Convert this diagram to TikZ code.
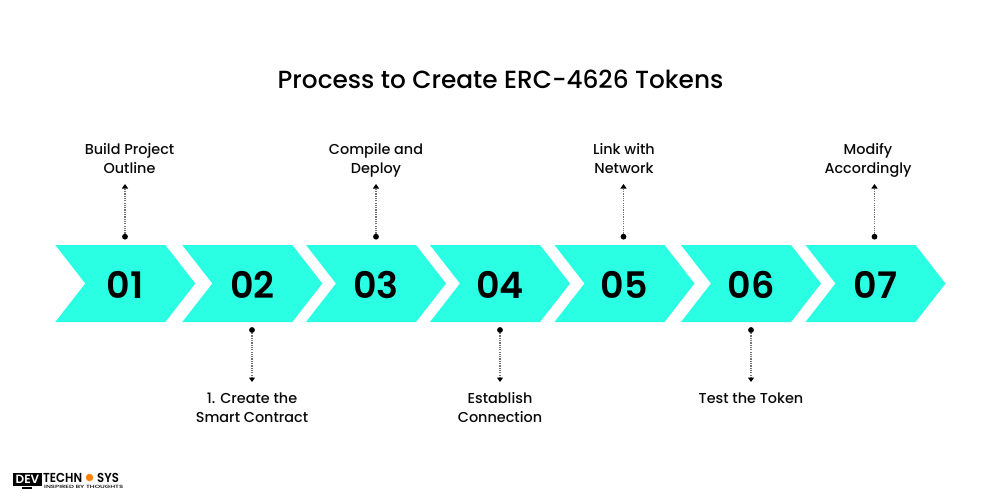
\documentclass[tikz,border=0pt]{standalone}
\usepackage{fontspec}
\setmainfont{Poppins}
\newfontfamily\medfont{Poppins Medium}
\newfontfamily\semifont{Poppins SemiBold}
\usetikzlibrary{arrows.meta}
\definecolor{aqua}{HTML}{2AFFE3}
\definecolor{ink}{HTML}{0A0A0A}
\newcommand{\ls}{\rule{0pt}{13pt}\rule[-6pt]{0pt}{6pt}}
\tikzset{
  x=1pt,y=-1pt,
  chev/.style={fill=aqua,draw=none},
  num/.style={font=\semifont\fontsize{36.5}{36}\selectfont,text=black,inner sep=0pt,anchor=center},
  lab/.style={font=\medfont\fontsize{14.4}{19}\selectfont,text=ink,inner sep=0pt,align=center,anchor=north},
  lead/.style={draw=black!55,line width=1.2pt,dash pattern=on 1.2pt off 1.1pt,-{Triangle[length=4.5pt,width=6pt,color=black,fill=black]}},
  dotm/.style={circle,fill=black,inner sep=0pt,minimum size=5.8pt},
  logotx/.style={inner sep=0pt,text=black},
}
\begin{document}
\begin{tikzpicture}
\useasboundingbox (0,0) rectangle (1000,500);
\node[inner sep=0pt,text=black,font=\medfont\fontsize{24.8}{30}\selectfont] (title) at (500.5,79.5) {Process to Create ERC-4626 Tokens};
\foreach \n/\x/\t in {1/55.3/01,2/182.3/02,3/306/03,4/430/04,5/554.5/05,6/681/06,7/805.5/07}{
  \fill[chev] (\x,245) -- ++(110,0) -- ++(30,38.5) -- ++(-30,38.5) -- ++(-110,0) -- ++(30,-38.5) -- cycle;
  \node[num] (n\n) at (\x+70,284.5) {\t};
}
% upper leaders
\foreach \n/\x/\lx/\t in {a/125/129.5/{\ls Build Project\\\ls Outline},c/376/376/{\ls Compile and\\\ls Deploy},e/623.5/624/{\ls Link with\\\ls Network},g/874.5/868/{\ls Modify\\\ls Accordingly}}{
  \node[lab] (l\n) at (\lx,141) {\t};
  \node[dotm] (d\n) at (\x,236.7) {};
  \coordinate (t\n) at (\x,184);
  \draw[lead] (d\n) -- (t\n);
}
% lower leaders
\foreach \n/\x/\t in {b/252/{\ls 1. Create the\\\ls Smart Contract},d/500/{\ls Establish\\\ls Connection},f/751/{\ls Test the Token}}{
  \node[lab] (l\n) at (\x,390) {\t};
  \node[dotm] (d\n) at (\x,330) {};
  \coordinate (t\n) at (\x,382);
  \draw[lead] (d\n) -- (t\n);
}
% logo
\node[fill=black,text=white,inner sep=0pt,minimum width=29pt,minimum height=13pt,font=\semifont\fontsize{12}{12}\selectfont] (logobox) at (27.5,479) {DEV};
\fill[black] (22,487) rectangle (32,489);
\node[logotx,anchor=west,font=\semifont\fontsize{13}{12}\selectfont] (logot) at (43,477.5) {\scalebox{0.9}[1]{TECHN}};
\node[circle,fill=orange,inner sep=0pt,minimum size=7.5pt] (logoo) at (89.5,477.5) {};
\node[logotx,anchor=west,font=\semifont\fontsize{13}{12}\selectfont] (logos) at (97,477.5) {\scalebox{0.9}[1]{SYS}};
\node[logotx,anchor=west,font=\medfont\fontsize{4.6}{5}\selectfont] (logos2) at (44,487) {\scalebox{1.5}[1]{INSPIRED BY THOUGHTS}};
\end{tikzpicture}
\end{document}
